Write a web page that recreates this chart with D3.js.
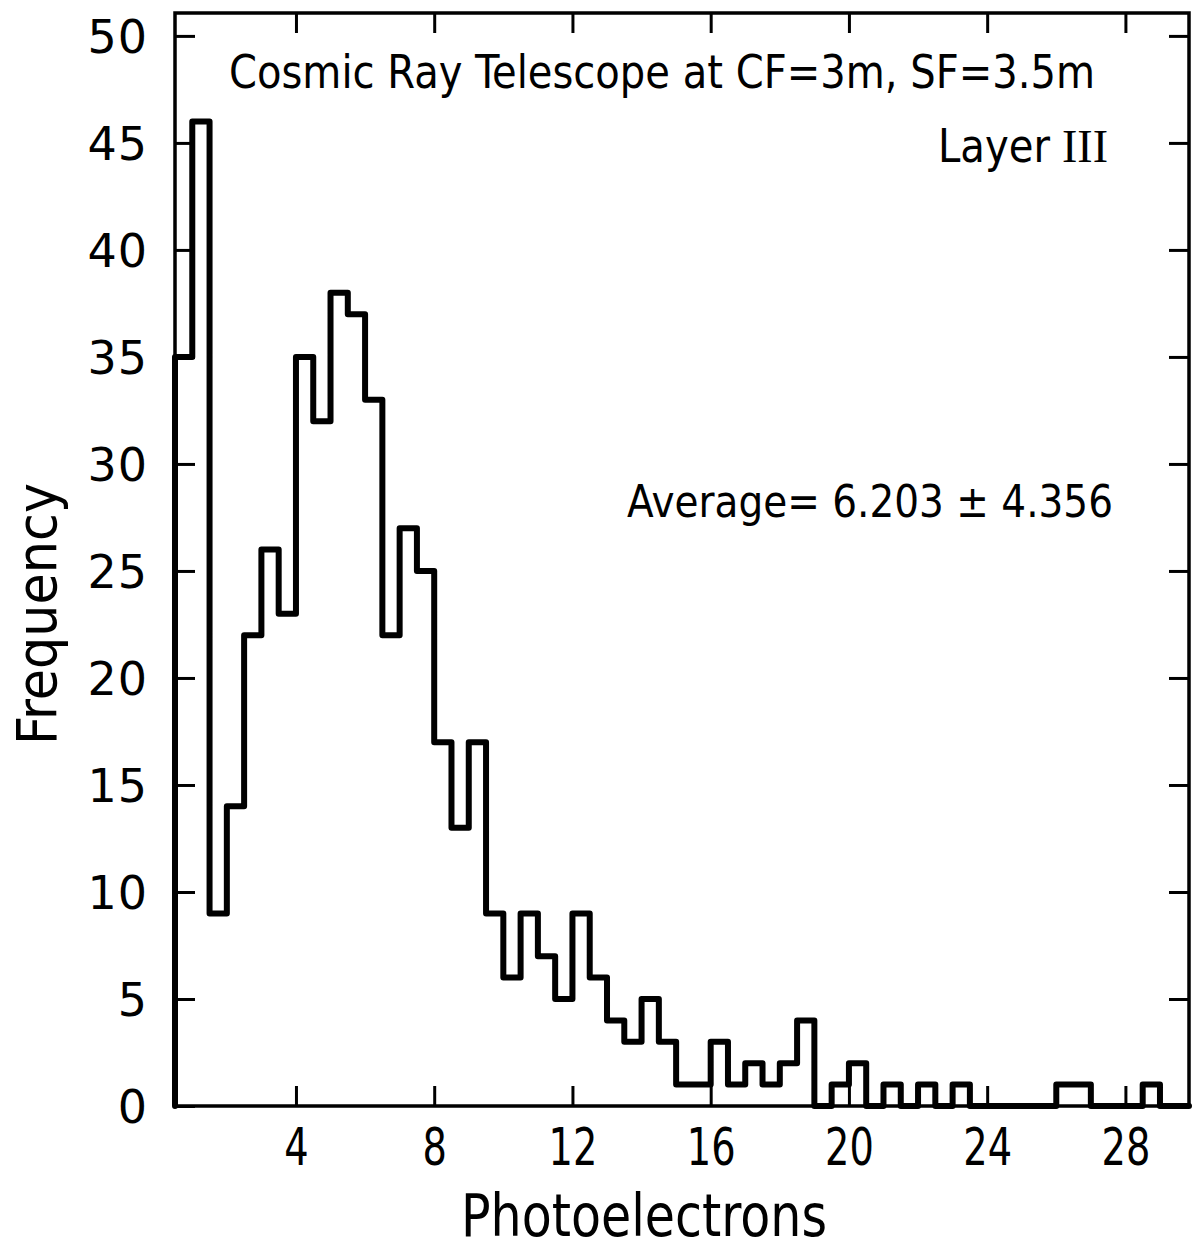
<!DOCTYPE html>
<html>
<head>
<meta charset="utf-8">
<script src="https://cdn.jsdelivr.net/npm/d3@7"></script>
<style>
  html, body { margin: 0; padding: 0; background: #fff; }
  svg { display: block; }
  .narrow { font-family: "Liberation Sans Narrow", "DejaVu Sans Condensed", "DejaVu Sans", sans-serif; }
  .wide { font-family: "DejaVu Sans", "Noto Sans", sans-serif; }
</style>
</head>
<body>
<script>
// ---- Data ----
const binStart = 0.5;
const binWidth = 0.5;
const frequency = [35,46,9,14,22,26,23,35,32,38,37,33,22,27,25,17,13,17,9,6,9,7,5,9,6,4,3,5,3,1,1,3,1,2,1,2,4,0,1,2,0,1,0,1,0,1,0,0,0,0,0,1,1,0,0,0,1,0,0];
const xTicks = [4, 8, 12, 16, 20, 24, 28];
const yTicks = [0, 5, 10, 15, 20, 25, 30, 35, 40, 45, 50];
const xDomain = [0.5, 29.84];
const yDomain = [0, 51.07];
const titleText = "Cosmic Ray Telescope at CF=3m, SF=3.5m";
const layerText = "Layer";
const layerNumeral = "III";
const averageText = "Average= 6.203 \u00b1 4.356";
const xLabel = "Photoelectrons";
const yLabel = "Frequency";

(function () {
// ---- Layout ----
const W = 1196, H = 1252;
const mLeft = 175, mRight = 1189, mTop = 13, mBottom = 1106;

const svg = d3.select("body").append("svg").attr("width", W).attr("height", H);

const x = d3.scaleLinear().domain(xDomain).range([mLeft, mRight]);
const y = d3.scaleLinear().domain(yDomain).range([mBottom, mTop]);

// histogram step path
const pts = [[binStart, 0]];
frequency.forEach((v, i) => {
  const x0 = binStart + i * binWidth;
  const x1 = Math.min(x0 + binWidth, xDomain[1]);
  pts.push([x0, v], [x1, v]);
});
pts.push([pts[pts.length - 1][0], 0]);

svg.append("path")
  .attr("d", d3.line().x(d => x(d[0])).y(d => y(d[1]))(pts))
  .attr("fill", "none")
  .attr("stroke", "#000")
  .attr("stroke-width", 6)
  .attr("stroke-linejoin", "round")
  .attr("stroke-linecap", "round");

// axes with inward ticks
const tickLen = 20;
const gB = svg.append("g").attr("transform", `translate(0,${mBottom})`)
  .call(d3.axisBottom(x).tickValues(xTicks).tickSizeInner(-tickLen).tickSizeOuter(0).tickPadding(22));
const gT = svg.append("g").attr("transform", `translate(0,${mTop})`)
  .call(d3.axisTop(x).tickValues(xTicks).tickSizeInner(-tickLen).tickSizeOuter(0).tickFormat(""));
const gL = svg.append("g").attr("transform", `translate(${mLeft},0)`)
  .call(d3.axisLeft(y).tickValues(yTicks).tickSizeInner(-tickLen).tickSizeOuter(0).tickPadding(27));
const gR = svg.append("g").attr("transform", `translate(${mRight},0)`)
  .call(d3.axisRight(y).tickValues(yTicks).tickSizeInner(-tickLen).tickSizeOuter(0).tickFormat(""));

[gB, gT, gL, gR].forEach(g => {
  g.select(".domain").remove();
  g.selectAll(".tick line").attr("stroke", "#000").attr("stroke-width", 3);
});

gB.selectAll(".tick text")
  .attr("class", "narrow")
  .attr("font-size", 52)
  .attr("fill", "#000")
  .attr("dy", "0.71em")
  .attr("transform", "scale(0.82,1)");

gL.selectAll(".tick text")
  .attr("class", "wide")
  .attr("font-size", 46)
  .attr("fill", "#000")
  .attr("letter-spacing", 1)
  .attr("dy", "0.36em");

// frame
svg.append("rect")
  .attr("x", mLeft).attr("y", mTop)
  .attr("width", mRight - mLeft).attr("height", mBottom - mTop)
  .attr("fill", "none").attr("stroke", "#000").attr("stroke-width", 3.5);

// texts
svg.append("text").attr("class", "narrow")
  .attr("x", 229).attr("y", 88)
  .attr("font-size", 46)
  .attr("textLength", 866).attr("lengthAdjust", "spacingAndGlyphs")
  .text(titleText);

const lt = svg.append("text").attr("class", "narrow")
  .attr("y", 162)
  .attr("font-size", 46);
lt.append("tspan").attr("x", 938)
  .attr("textLength", 112).attr("lengthAdjust", "spacingAndGlyphs")
  .text(layerText);
lt.append("tspan").attr("x", 1062)
  .attr("font-family", "Liberation Serif, serif")
  .attr("font-size", 46)
  .attr("textLength", 46).attr("lengthAdjust", "spacingAndGlyphs")
  .text(layerNumeral);

svg.append("text").attr("class", "wide")
  .attr("x", 627).attr("y", 517)
  .attr("font-size", 45)
  .attr("textLength", 486).attr("lengthAdjust", "spacingAndGlyphs")
  .text(averageText);

svg.append("text").attr("class", "narrow")
  .attr("x", 461).attr("y", 1236)
  .attr("font-size", 58)
  .attr("textLength", 366).attr("lengthAdjust", "spacingAndGlyphs")
  .text(xLabel);

svg.append("text").attr("class", "narrow")
  .attr("transform", `translate(56,614) rotate(-90)`)
  .attr("text-anchor", "middle")
  .attr("font-size", 55)
  .attr("textLength", 262).attr("lengthAdjust", "spacingAndGlyphs")
  .text(yLabel);
})();
</script>
</body>
</html>
